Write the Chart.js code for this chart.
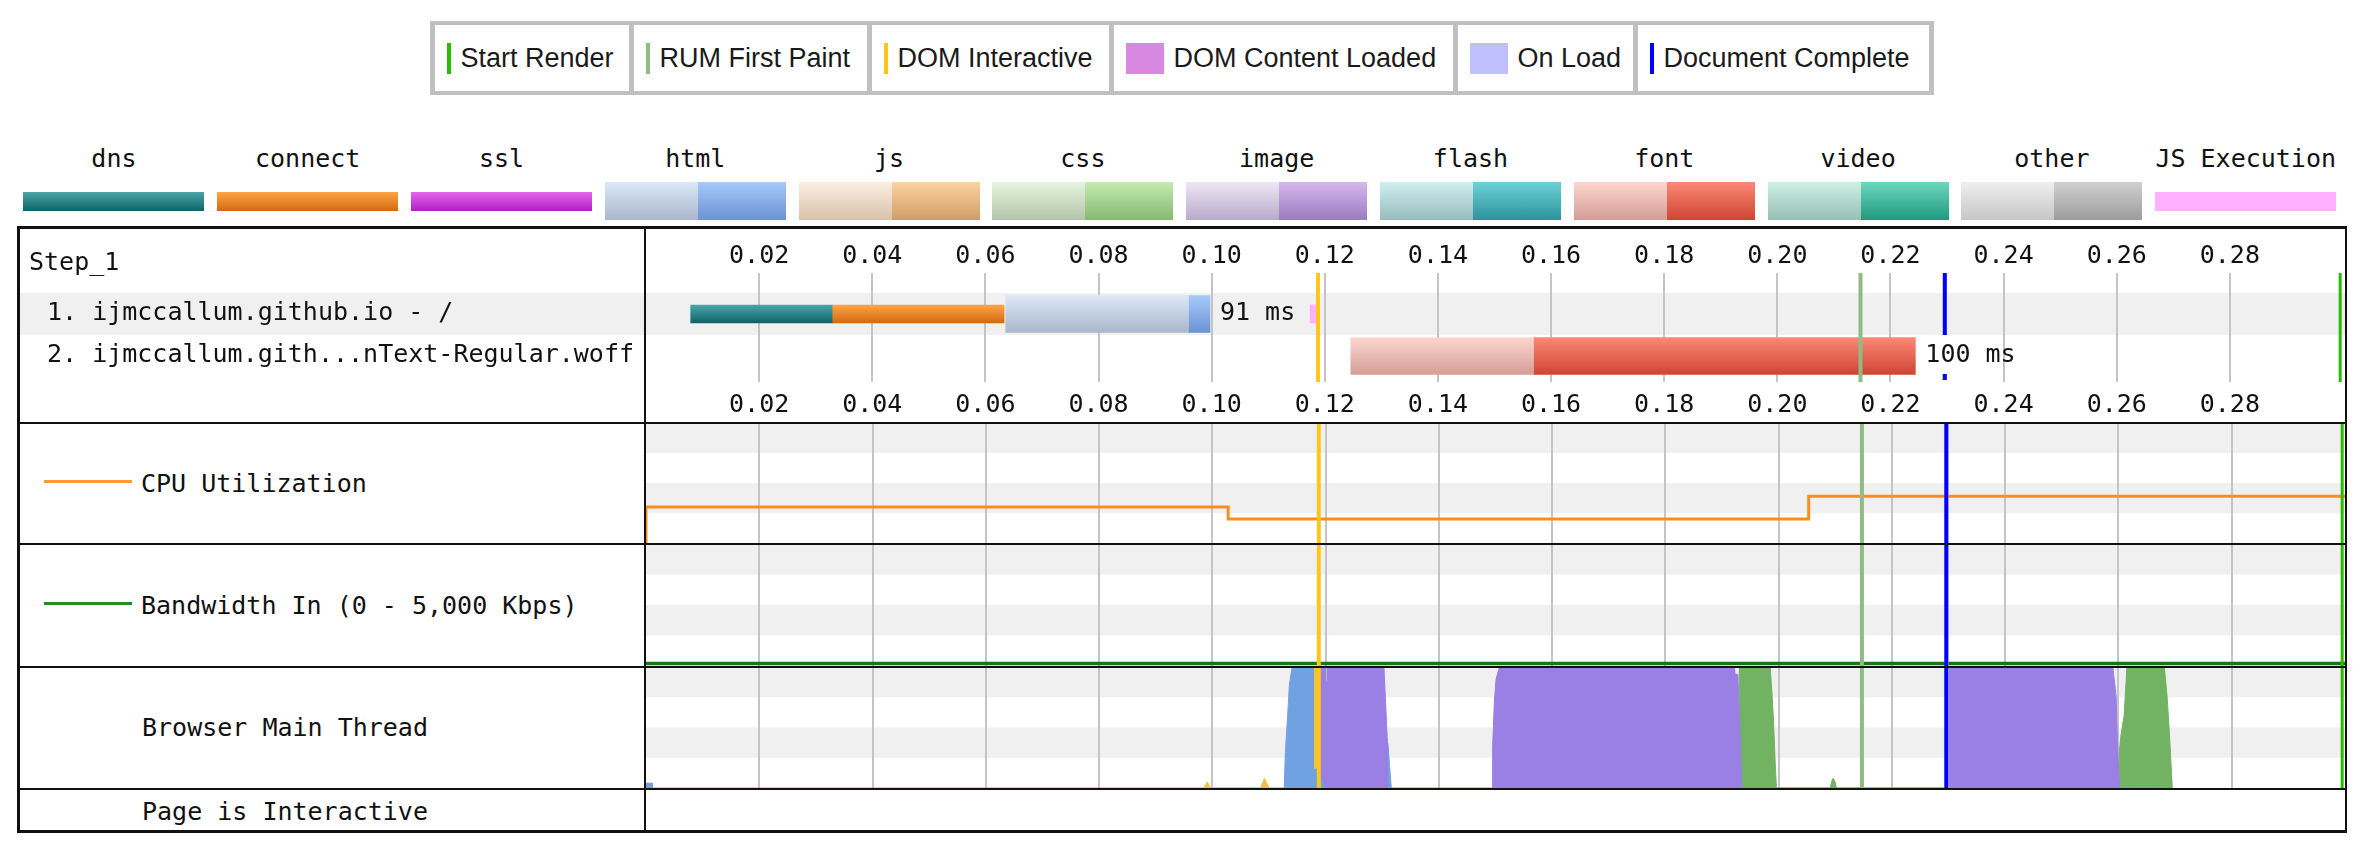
<!DOCTYPE html>
<html>
<head>
<meta charset="utf-8">
<title>Waterfall</title>
<script src="https://cdn.jsdelivr.net/npm/chart.js@4.4.1/dist/chart.umd.min.js"></script>
<style>
  html, body { margin:0; padding:0; background:#fff; }
  body { width:2369px; height:844px; position:relative; overflow:hidden; color:#111;
         font-family:"DejaVu Sans Mono", monospace; font-size:25px; }
  .txt { position:absolute; height:30px; line-height:30px; white-space:pre; }
  #evLegend { position:absolute; left:430px; top:21px; width:1504px; height:74px; box-sizing:border-box;
    background:#c0c0c0; padding:4px 5px; display:flex; gap:5px; }
  #evLegend .cell { background:#fff; height:66px; display:flex; align-items:center; box-sizing:border-box;
    padding-left:11.5px; font-family:"Liberation Sans", Arial, sans-serif; font-size:27px; color:#1a1a1a; white-space:nowrap; flex:none; }
  #evLegend .mk { flex:none; height:31px; margin-right:10px; }
  .bar { position:absolute; }
  .fr { position:absolute; background:#111; }
  canvas { position:absolute; }
</style>
</head>
<body>
<div id="evLegend"></div>
<div id="typeLegend"></div>

<canvas id="wf" width="2328" height="194" style="left:17px;top:228px;"></canvas>
<canvas id="cpu" width="1699" height="120" style="left:646px;top:423px;"></canvas>
<canvas id="bw" width="1699" height="122" style="left:646px;top:544px;"></canvas>
<canvas id="mt" width="1699" height="121" style="left:646px;top:667px;"></canvas>

<div id="labels"></div>
<div id="frame"></div>

<script>
// ================= DATA =================
const timeMin = 0, timeMax = 0.3, tickStep = 0.02;   // seconds

const stepLabel = 'Step_1';
const rowLabels = ['1. ijmccallum.github.io - /', '2. ijmccallum.gith...nText-Regular.woff'];
const rowTypes  = ['html', 'font'];
// request phases [start, end] in seconds, one entry per row
const dnsTimes      = [[0.0079, 0.0329], null];
const connectTimes  = [[0.0329, 0.0633], null];
const ttfbTimes     = [[0.0636, 0.0959], [0.1246, 0.1569]];
const downloadTimes = [[0.0959, 0.0997], [0.1569, 0.2244]];
const jsExecTimes   = [[0.1174, 0.1184], null];
const durationLabels = ['91 ms', '100 ms'];

// page events
const eventLabels = ['Start Render', 'RUM First Paint', 'DOM Interactive', 'DOM Content Loaded', 'On Load', 'Document Complete'];
const eventColors = ['#28bc00', '#8fbc83', '#ffc61a', '#d888df', '#c0c0ff', '#0000ff'];
const eventStart  = [0.2995, 0.2147, 0.1188, 0.1188, 0.2293, 0.2296];
const eventEnd    = [0.2995, 0.2147, 0.1188, 0.1190, 0.2300, 0.2296];

// request type legend
const typeLegendLabels = ['dns', 'connect', 'ssl', 'html', 'js', 'css', 'image', 'flash', 'font', 'video', 'other', 'JS Execution'];

// CPU utilization (%), stepped
const cpuTimes  = [0, 0, 0.1028, 0.2053, 0.3];
const cpuValues = [0, 30, 20, 39, 39];
// Bandwidth in (Kbps)
const bwTimes  = [0, 0.3];
const bwValues = [0, 0];

// Browser main thread activity outlines: [time s, % busy]
const mtParsing = [[0,0],[0,4],[0.0011,4],[0.0011,0],[0.1086,0],[0.1090,3],[0.1096,3],[0.1100,0],
  [0.1127,0],[0.1129,30],[0.1133,60],[0.1136,85],[0.1141,100],[0.1189,100],[0.1189,16],[0.1199,16],[0.1199,0],
  [0.1293,0],[0.1293,37],[0.1310,37],[0.1316,0]];
const mtScriptBumps = [[0.0985,0],[0.0991,5],[0.0997,0],[0.1085,0],[0.1092,8],[0.1100,0]];
const mtScriptBlock = [[0.1179,100],[0.1188,100]];      // spans 16% .. 100%
const mtScriptBlockBase = 16;
const mtOther = [[0.1200,100],[0.1203,100]];             // spans 88% .. 100%
const mtOtherBase = 88;
const mtLayout = [[0.1189,0],[0.1199,0],[0.1190,16],[0.1189,100],[0.1303,100],[0.1306,70],[0.1309,40],[0.1309,0],
  [0.1494,0],[0.1495,35],[0.1498,72],[0.1501,90],[0.1507,100],[0.1922,100],[0.1923,94],[0.1928,94],[0.1935,0],
  [0.2301,0],[0.2301,100],[0.2590,100],[0.2596,75],[0.2598,40],[0.2601,8],[0.2601,0]];
const mtPaint = [[0.1930,0],[0.1930,94],[0.1931,100],[0.1985,100],[0.1988,80],[0.1991,55],[0.1993,30],[0.1996,0],
  [0.2091,0],[0.2094,6],[0.2096,8],[0.2099,6],[0.2102,0],
  [0.2601,0],[0.2601,8],[0.2602,30],[0.2604,42],[0.2610,60],[0.2615,100],[0.2681,100],[0.2686,75],[0.2690,45],[0.2695,0]];

// ================= STYLE =================
const MONO = '"DejaVu Sans Mono", monospace';
const GRID = '#c4c4c4';
const STRIPE = '#f0f0f0';
const CONN = { dns:['#4ca5a8','#0d6468'], connect:['#ffa448','#d4690e'], ssl:['#e467ec','#b01fc2'], 'JS Execution':['#ffb0ff','#ffb0ff'] };
const TYPE = {
  html:  { light:['#dde7f7','#aab7cc'], dark:['#a7c9fb','#6b92d2'] },
  js:    { light:['#fcefe2','#d8c1a9'], dark:['#fdd3a2','#d09c66'] },
  css:   { light:['#e6f4df','#b2c5a9'], dark:['#c4eab0','#86b972'] },
  image: { light:['#eee6f5','#b9aacb'], dark:['#d5b8ec','#9b7bc2'] },
  flash: { light:['#d0eff1','#96bbbd'], dark:['#6fd0d8','#2a949d'] },
  font:  { light:['#fdd6ce','#d39e95'], dark:['#fc8876','#cf4534'] },
  video: { light:['#cdf0e6','#97bfb3'], dark:['#6dd8bd','#1e9a7f'] },
  other: { light:['#efefef','#c6c6c6'], dark:['#d0d0d0','#9c9c9c'] }
};
const MT = { parsing:'#70a1e1', script:'#f3c13f', layout:'#9a7fe4', paint:'#71b263', other:'#b4b4b4' };

Chart.defaults.font.family = MONO;

// ================= HTML LEGENDS / LABELS =================
const evCellWidths = [194, 233, 237, 339, 175, 291];
const evLegend = document.getElementById('evLegend');
eventLabels.forEach((name, i) => {
  const cell = document.createElement('div');
  cell.className = 'cell';
  cell.style.width = evCellWidths[i] + 'px';
  const mk = document.createElement('span');
  mk.className = 'mk';
  mk.style.background = eventColors[i];
  mk.style.width = (eventEnd[i] > eventStart[i] ? 38 : 4) + 'px';
  cell.appendChild(mk);
  cell.appendChild(document.createTextNode(name));
  evLegend.appendChild(cell);
});

const typeLegend = document.getElementById('typeLegend');
typeLegendLabels.forEach((name, k) => {
  const c = 113.9 + 193.8 * k;
  const lab = document.createElement('div');
  lab.className = 'txt';
  lab.style.left = (c - 150) + 'px'; lab.style.width = '300px'; lab.style.textAlign = 'center';
  lab.style.top = '144px';
  lab.textContent = name;
  typeLegend.appendChild(lab);
  if (CONN[name]) {
    const b = document.createElement('div');
    b.className = 'bar';
    b.style.cssText += `left:${c-90.5}px;width:181px;top:192px;height:19px;background:linear-gradient(${CONN[name][0]},${CONN[name][1]});`;
    typeLegend.appendChild(b);
  } else {
    const t = TYPE[name];
    const b1 = document.createElement('div');
    b1.className = 'bar';
    b1.style.cssText += `left:${c-90.5}px;width:93px;top:182px;height:38px;background:linear-gradient(${t.light[0]},${t.light[1]});`;
    const b2 = document.createElement('div');
    b2.className = 'bar';
    b2.style.cssText += `left:${c+2.5}px;width:88px;top:182px;height:38px;background:linear-gradient(${t.dark[0]},${t.dark[1]});`;
    typeLegend.appendChild(b1); typeLegend.appendChild(b2);
  }
});

const labelsDiv = document.getElementById('labels');
function addText(text, left, top) {
  const d = document.createElement('div');
  d.className = 'txt'; d.style.left = left + 'px'; d.style.top = top + 'px';
  d.textContent = text; labelsDiv.appendChild(d);
}
function addRect(parent, cls, l, t, w, h, color) {
  const d = document.createElement('div');
  d.className = cls;
  d.style.cssText = `left:${l}px;top:${t}px;width:${w}px;height:${h}px;` + (color ? `background:${color};` : '');
  parent.appendChild(d);
}
addText(stepLabel, 29, 247);
addRect(labelsDiv, 'bar', 44, 480, 88, 3, '#ff9a33');
addText('CPU Utilization', 141, 469);
addRect(labelsDiv, 'bar', 44, 602, 88, 3, '#1f8f1f');
addText('Bandwidth In (0 - 5,000 Kbps)', 141, 591);
addText('Browser Main Thread', 142, 713);
addText('Page is Interactive', 142, 797);

const frame = document.getElementById('frame');
addRect(frame, 'fr', 17, 226, 2330, 3);
addRect(frame, 'fr', 17, 830, 2330, 3);
addRect(frame, 'fr', 17, 226, 3, 607);
addRect(frame, 'fr', 2345, 226, 2, 607);
addRect(frame, 'fr', 644, 226, 2, 607);
addRect(frame, 'fr', 17, 421.5, 2330, 2);
addRect(frame, 'fr', 17, 542.5, 2330, 2);
addRect(frame, 'fr', 17, 666, 2330, 2);
addRect(frame, 'fr', 17, 787.5, 2330, 2);

// ================= CHART HELPERS =================
const gridOpts = {
  color: c => (c.tick && c.tick.value > 0.001 && c.tick.value < timeMax - 0.001) ? GRID : 'rgba(0,0,0,0)',
  lineWidth: 2, drawTicks: false
};

function eventLinesPlugin(segmentsFor) {
  return {
    id: 'eventLines',
    afterDatasetsDraw(chart) {
      const { ctx, chartArea: a, scales: { x } } = chart;
      ctx.save();
      ctx.beginPath(); ctx.rect(a.left, a.top, a.right - a.left, a.bottom - a.top); ctx.clip();
      const orderIdx = [3, 4, 1, 2, 5, 0];
      const widths = [3, 4, 4, 2, 2, 4];
      orderIdx.forEach(i => {
        const x0 = x.getPixelForValue(eventStart[i]);
        const x1 = x.getPixelForValue(eventEnd[i]);
        const segs = (segmentsFor && segmentsFor(chart, eventLabels[i])) || [[a.top, a.bottom]];
        ctx.fillStyle = eventColors[i];
        segs.forEach(([t, b]) => {
          if (eventEnd[i] > eventStart[i]) ctx.fillRect(x0, t, Math.max(x1 - x0, 1), b - t);
          else ctx.fillRect(x0 - widths[i] / 2, t, widths[i], b - t);
        });
      });
      ctx.restore();
    }
  };
}

const stripesPlugin = {
  id: 'stripes',
  beforeDraw(chart) {
    const { ctx, chartArea: a } = chart;
    const h = (a.bottom - a.top) / 4;
    ctx.save(); ctx.fillStyle = STRIPE;
    for (let k = 0; k < 4; k += 2) ctx.fillRect(a.left, a.top + k * h, a.right - a.left, h);
    ctx.restore();
  }
};

function stripOptions(ymin, ymax) {
  return {
    animation: false, responsive: false, events: [],
    layout: { padding: 0 },
    plugins: { legend: { display: false }, tooltip: { enabled: false } },
    scales: {
      x: { type: 'linear', min: timeMin, max: timeMax, offset: false,
           ticks: { display: false, stepSize: tickStep },
           grid: gridOpts, border: { display: false },
           afterFit: s => { s.height = 0; } },
      y: { display: false, min: ymin, max: ymax, offset: false }
    }
  };
}

const pts = arr => arr.map(([x, y]) => ({ x, y }));

// ================= WATERFALL =================
function barData(times) {
  return times.map((r, i) => r ? { x: r, y: i + 1 } : null).filter(Boolean);
}
function grad(c, colors, thick) {
  if (c.type !== 'data' || !c.raw) return colors[1];
  const chart = c.chart, y = chart.scales.y;
  if (!y) return colors[1];
  const yc = y.getPixelForValue(c.raw.y);
  if (!isFinite(yc)) return colors[1];
  const g = chart.ctx.createLinearGradient(0, yc - thick / 2, 0, yc + thick / 2);
  g.addColorStop(0, colors[0]); g.addColorStop(1, colors[1]);
  return g;
}
const THIN = 18, THICK = 37;
function barDs(label, times, colorFn, thick) {
  return { label, data: barData(times), backgroundColor: c => colorFn(c, thick),
           barThickness: thick, maxBarThickness: thick, grouped: false, borderWidth: 0,
           xAxisID: 'x', yAxisID: 'y' };
}

const rowBandPlugin = {
  id: 'rowBand',
  beforeDraw(chart) {
    const { ctx, scales: { y } } = chart;
    ctx.save(); ctx.fillStyle = STRIPE;
    rowLabels.forEach((_, i) => {
      if (i % 2 === 0) {
        const t = y.getPixelForValue(i + 0.5), b = y.getPixelForValue(i + 1.5);
        ctx.fillRect(0, t, chart.width, b - t);
      }
    });
    ctx.restore();
  }
};
const durationPlugin = {
  id: 'durations',
  afterDatasetsDraw(chart) {
    const { ctx, scales: { x, y } } = chart;
    ctx.save();
    ctx.font = '25px ' + MONO; ctx.fillStyle = '#111'; ctx.textBaseline = 'middle'; ctx.textAlign = 'left';
    downloadTimes.forEach((r, i) => {
      if (r) ctx.fillText(durationLabels[i], x.getPixelForValue(r[1]) + 10, y.getPixelForValue(i + 1));
    });
    ctx.restore();
  }
};

const xTickCb = v => (v > 0.001 && v < timeMax - 0.001) ? v.toFixed(2) : '';

new Chart(document.getElementById('wf'), {
  type: 'bar',
  data: {
    datasets: [
      barDs('JS Execution', jsExecTimes, (c, t) => grad(c, CONN['JS Execution'], t), THIN),
      barDs('dns', dnsTimes, (c, t) => grad(c, CONN.dns, t), THIN),
      barDs('connect', connectTimes, (c, t) => grad(c, CONN.connect, t), THIN),
      barDs('ttfb', ttfbTimes, (c, t) => grad(c, c.raw ? TYPE[rowTypes[c.raw.y - 1]].light : TYPE.html.light, t), THICK),
      barDs('download', downloadTimes, (c, t) => grad(c, c.raw ? TYPE[rowTypes[c.raw.y - 1]].dark : TYPE.html.dark, t), THICK)
    ]
  },
  options: {
    animation: false, responsive: false, events: [], indexAxis: 'y',
    layout: { padding: { left: 30, right: 0, top: 0, bottom: 0 } },
    plugins: { legend: { display: false }, tooltip: { enabled: false } },
    scales: {
      x: { type: 'linear', position: 'top', min: timeMin, max: timeMax, offset: false,
           ticks: { stepSize: tickStep, callback: xTickCb, font: { family: MONO, size: 25 }, color: '#111',
                    padding: 2, maxRotation: 0, autoSkip: false },
           grid: gridOpts, border: { display: false },
           afterFit: s => { s.height = 45; } },
      x2: { type: 'linear', position: 'bottom', min: timeMin, max: timeMax, offset: false,
           ticks: { stepSize: tickStep, callback: xTickCb, font: { family: MONO, size: 25 }, color: '#111',
                    padding: 0, maxRotation: 0, autoSkip: false },
           grid: { display: false }, border: { display: false },
           afterFit: s => { s.height = 40; } },
      y: { type: 'linear', position: 'left', min: 0.024, max: 2.62, reverse: true, bounds: 'data',
           offset: false, grace: 0,
           afterBuildTicks: s => { s.ticks = rowLabels.map((_, i) => ({ value: i + 1 })); },
           ticks: { callback: (v, i) => rowLabels[i], crossAlign: 'far', font: { family: MONO, size: 25 }, color: '#111', padding: 0 },
           grid: { display: false, offset: false }, border: { display: false },
           afterFit: s => { s.width = 599; } }
    }
  },
  plugins: [rowBandPlugin, eventLinesPlugin((chart, name) => {
    if (name !== 'Document Complete' && name !== 'On Load') return null;
    const a = chart.chartArea, y = chart.scales.y;
    const r2 = y.getPixelForValue(2.5);
    return [[a.top, y.getPixelForValue(1.5)], [r2 - 3, r2 + 3]];
  }), durationPlugin]
});

// ================= CPU =================
new Chart(document.getElementById('cpu'), {
  type: 'line',
  data: { datasets: [{
    label: 'CPU Utilization',
    data: cpuTimes.map((t, i) => ({ x: t, y: cpuValues[i] })),
    borderColor: '#ff8c1a', borderWidth: 3, pointRadius: 0, stepped: 'before', fill: false, tension: 0
  }] },
  options: stripOptions(0, 100),
  plugins: [stripesPlugin, eventLinesPlugin()]
});

// ================= BANDWIDTH =================
new Chart(document.getElementById('bw'), {
  type: 'line',
  data: { datasets: [{
    label: 'Bandwidth In',
    data: bwTimes.map((t, i) => ({ x: t, y: bwValues[i] })),
    borderColor: '#137a13', borderWidth: 3.5, pointRadius: 0, fill: false, tension: 0
  }] },
  options: stripOptions(-100, 5000),
  plugins: [stripesPlugin, eventLinesPlugin()]
});

// ================= MAIN THREAD =================
function areaDs(label, arr, color, fill, order) {
  return { label, data: pts(arr), backgroundColor: color, borderColor: color, borderWidth: 1,
           pointRadius: 0, fill, tension: 0, order };
}
new Chart(document.getElementById('mt'), {
  type: 'line',
  data: { datasets: [
    areaDs('Script block', mtScriptBlock, MT.script, { value: mtScriptBlockBase }, 0),
    areaDs('Other', mtOther, MT.other, { value: mtOtherBase }, 1),
    areaDs('Script', mtScriptBumps, MT.script, 'origin', 2),
    areaDs('Layout', mtLayout, MT.layout, 'origin', 3),
    areaDs('Paint', mtPaint, MT.paint, 'origin', 4),
    areaDs('Parsing', mtParsing, MT.parsing, 'origin', 5)
  ] },
  options: stripOptions(0, 100),
  plugins: [stripesPlugin, eventLinesPlugin()]
});
</script>
</body>
</html>
